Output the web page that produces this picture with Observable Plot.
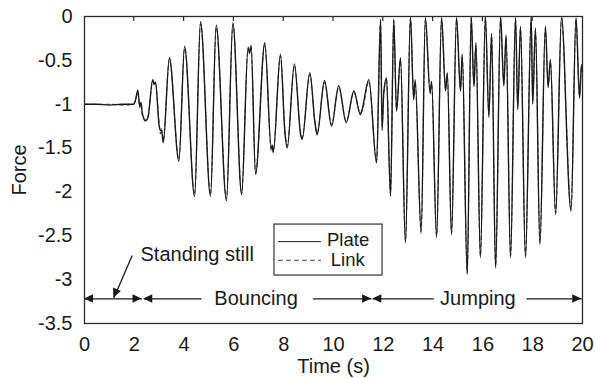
<!DOCTYPE html>
<html><head><meta charset="utf-8">
<script src="https://cdn.jsdelivr.net/npm/d3@7"></script>
<script src="https://cdn.jsdelivr.net/npm/@observablehq/plot@0.6"></script>
<style>
body{margin:0;background:#fff;}
svg{font-family:"Liberation Sans",Arial,Helvetica,sans-serif;}
</style>
</head><body><div id="chart"></div>
<script>
// ---- data ----
const time = [0, 0.5, 1.0, 1.5, 1.97, 2.05, 2.14, 2.22, 2.27, 2.32, 2.45, 2.55, 2.74, 2.80, 2.85, 3.00, 3.05, 3.10, 3.16, 3.41,
  3.79, 4.02, 4.42, 4.66, 5.06, 5.29, 5.70, 5.96, 6.31, 6.57, 6.63, 6.69, 6.87, 7.24, 7.50, 7.54, 7.58, 7.87, 8.05, 8.14,
  8.43, 8.68, 8.74, 9.05, 9.25, 9.34, 9.64, 9.92, 10.21, 10.51, 10.82, 11.08, 11.15, 11.42, 11.73, 11.89, 11.95, 12.02, 12.13, 12.29,
  12.42, 12.53, 12.69, 12.89, 13.09, 13.22, 13.28, 13.52, 13.69, 13.88, 13.94, 14.14, 14.34, 14.50, 14.57, 14.74, 14.94, 15.10, 15.17, 15.37,
  15.53, 15.64, 15.72, 15.90, 16.10, 16.24, 16.35, 16.51, 16.71, 16.84, 16.93, 17.11, 17.31, 17.40, 17.51, 17.71, 17.94, 18.00, 18.11, 18.29,
  18.51, 18.62, 18.71, 18.92, 19.16, 19.27, 19.32, 19.54, 19.74, 19.88, 19.96, 20.0];
const plate = [-1.00, -1.00, -1.01, -1.00, -1.00, -0.95, -0.84, -1.02, -0.98, -1.10, -1.19, -1.15, -0.72, -0.77, -0.75, -1.25, -1.30, -1.30, -1.44, -0.47,
  -1.65, -0.34, -2.05, -0.06, -2.05, -0.10, -2.10, -0.07, -2.03, -0.35, -0.42, -0.33, -1.80, -0.30, -1.50, -1.48, -1.55, -0.43, -1.33, -1.50,
  -0.54, -1.35, -1.40, -0.64, -1.20, -1.35, -0.73, -1.25, -0.79, -1.21, -0.85, -1.12, -1.06, -0.72, -1.67, -0.03, -1.30, -0.86, -0.70, -2.05,
  -0.03, -1.08, -0.47, -2.58, 0.00, -0.95, -0.72, -2.47, -0.01, -0.88, -0.74, -2.52, -0.01, -0.85, -0.64, -2.49, -0.01, -0.85, -0.43, -2.94,
  0.00, -0.80, -0.30, -2.75, 0.00, -1.15, -0.19, -2.87, 0.00, -0.79, -0.21, -2.75, -0.01, -1.06, -0.11, -2.75, 0.00, -1.00, -0.13, -2.60,
  -0.11, -0.81, -0.49, -2.26, 0.00, -0.50, -0.95, -2.22, -0.01, -0.93, -0.55, -0.62];
const link = [-1.00, -1.00, -1.00, -1.01, -1.00, -0.96, -0.86, -1.04, -0.99, -1.12, -1.18, -1.14, -0.74, -0.78, -0.76, -1.22, -1.34, -1.28, -1.42, -0.49,
  -1.63, -0.36, -2.03, -0.08, -2.03, -0.12, -2.08, -0.09, -2.01, -0.37, -0.40, -0.35, -1.78, -0.32, -1.53, -1.45, -1.53, -0.45, -1.30, -1.48,
  -0.56, -1.32, -1.38, -0.66, -1.18, -1.33, -0.75, -1.23, -0.81, -1.19, -0.87, -1.10, -1.08, -0.74, -1.65, -0.05, -1.25, -0.88, -0.72, -2.03,
  -0.05, -1.05, -0.50, -2.56, -0.02, -0.92, -0.75, -2.45, -0.03, -0.85, -0.77, -2.50, -0.03, -0.82, -0.66, -2.47, -0.03, -0.82, -0.46, -2.92,
  -0.02, -0.78, -0.33, -2.73, -0.02, -1.12, -0.22, -2.85, -0.02, -0.76, -0.24, -2.73, -0.03, -1.03, -0.14, -2.73, -0.02, -0.97, -0.16, -2.58,
  -0.13, -0.78, -0.52, -2.24, -0.02, -0.53, -0.92, -2.20, -0.03, -0.90, -0.58, -0.64];
const xTicks = [0, 2, 4, 6, 8, 10, 12, 14, 16, 18, 20];
const yTicks = [0, -0.5, -1, -1.5, -2, -2.5, -3, -3.5];
const seriesNames = ["Plate", "Link"];
const phaseNames = ["Standing still", "Bouncing", "Jumping"];

// ---- annotation layout (positions in data units) ----
const arrowY = -3.22;
const shafts = [[0, 2.31], [2.38, 4.7], [9.17, 11.53], [11.58, 14.03], [17.75, 19.97]];
const headsLeft = [0, 2.38, 11.58];
const headsRight = [2.31, 11.53, 19.97];
const pointer = {x1: 1.915, y1: -2.725, x2: 1.18, y2: -3.21};

const plateData = time.map((t, i) => ({t, v: plate[i]}));
const linkData = time.map((t, i) => ({t, v: link[i]}));

const ink = "#1a1a1a";
const FS = 20;

function topTicks(index, scales) {
  const g = d3.create("svg:g").attr("stroke", "#2a2a2a").attr("stroke-width", 1.2);
  for (const t of xTicks.slice(1, -1)) {
    const px = scales.x(t), py = scales.y(0);
    g.append("line").attr("x1", px).attr("x2", px).attr("y1", py).attr("y2", py + 5);
  }
  return g.node();
}

function arrowHeads(index, scales) {
  const g = d3.create("svg:g").attr("fill", ink);
  const tri = (xa, ya, xb, yb) => {
    const ax = scales.x(xa), ay = scales.y(ya), bx = scales.x(xb), by = scales.y(yb);
    const dx = bx - ax, dy = by - ay, L = Math.hypot(dx, dy), ux = dx / L, uy = dy / L;
    const len = 9, hw = 4.3;
    const cx = bx - ux * len, cy = by - uy * len;
    g.append("path").attr("d", `M${bx},${by}L${cx - uy * hw},${cy + ux * hw}L${cx + uy * hw},${cy - ux * hw}Z`);
  };
  for (const t of headsLeft) tri(t + 1, arrowY, t, arrowY);
  for (const t of headsRight) tri(t - 1, arrowY, t, arrowY);
  tri(pointer.x1, pointer.y1, pointer.x2, pointer.y2);
  return g.node();
}

const chart = Plot.plot({
  width: 595,
  height: 378,
  marginLeft: 84,
  marginRight: 13,
  marginTop: 16,
  marginBottom: 55,
  style: {fontFamily: '"Liberation Sans", Arial, Helvetica, sans-serif', fontSize: FS + "px", color: ink, background: "#fff"},
  x: {domain: [0, 20]},
  y: {domain: [-3.5, 0]},
  marks: [
    Plot.axisY({ticks: yTicks, tickSize: 0, tickPadding: 12, tickFormat: d => String(d), fontSize: FS, label: null}),
    Plot.axisX({ticks: xTicks, tickSize: 0, tickPadding: 13, tickFormat: d => String(d), fontSize: FS, label: null}),
    Plot.text(["Force"], {text: d => d, frameAnchor: "left", dx: -65, rotate: -90, textAnchor: "middle", lineAnchor: "middle", fontSize: FS, fill: ink}),
    Plot.text(["Time (s)"], {text: d => d, frameAnchor: "bottom", dy: 43, textAnchor: "middle", lineAnchor: "middle", fontSize: FS, fill: ink}),
    Plot.line(linkData, {x: "t", y: "v", stroke: "#555", strokeWidth: 1.1, strokeDasharray: "4,3", curve: "monotone-x"}),
    Plot.line(plateData, {x: "t", y: "v", stroke: ink, strokeWidth: 1.4, curve: "monotone-x"}),
    // legend
    Plot.rect([0], {x1: 7.63, x2: 11.97, y1: -2.372, y2: -2.953, fill: "white", stroke: "#333", strokeWidth: 1.2}),
    Plot.line([[7.79, -2.567], [9.48, -2.567]], {x: d => d[0], y: d => d[1], stroke: ink, strokeWidth: 1}),
    Plot.line([[7.79, -2.78], [9.48, -2.78]], {x: d => d[0], y: d => d[1], stroke: "#444", strokeWidth: 1, strokeDasharray: "4,4"}),
    Plot.text([seriesNames[0]], {text: d => d, x: 9.74, y: -2.548, textAnchor: "start", fontSize: 18.5, fill: ink}),
    Plot.text([seriesNames[1]], {text: d => d, x: 9.89, y: -2.775, textAnchor: "start", fontSize: 18.5, fill: ink}),
    // phase annotations
    Plot.link(shafts, {x1: d => d[0], x2: d => d[1], y1: () => arrowY, y2: () => arrowY, stroke: ink, strokeWidth: 1.3}),
    Plot.link([pointer], {x1: "x1", y1: "y1", x2: "x2", y2: "y2", stroke: ink, strokeWidth: 1.3}),
    Plot.text([phaseNames[0]], {text: d => d, x: 2.25, y: -2.71, textAnchor: "start", fontSize: FS, fill: ink}),
    Plot.text([phaseNames[1]], {text: d => d, x: 6.89, y: arrowY, fontSize: FS, fill: ink}),
    Plot.text([phaseNames[2]], {text: d => d, x: 15.8, y: arrowY, fontSize: FS, fill: ink}),
    arrowHeads,
    topTicks,
    Plot.frame({stroke: "#2a2a2a", strokeWidth: 1.3})
  ]
});
document.getElementById("chart").appendChild(chart);
</script>
</body></html>
